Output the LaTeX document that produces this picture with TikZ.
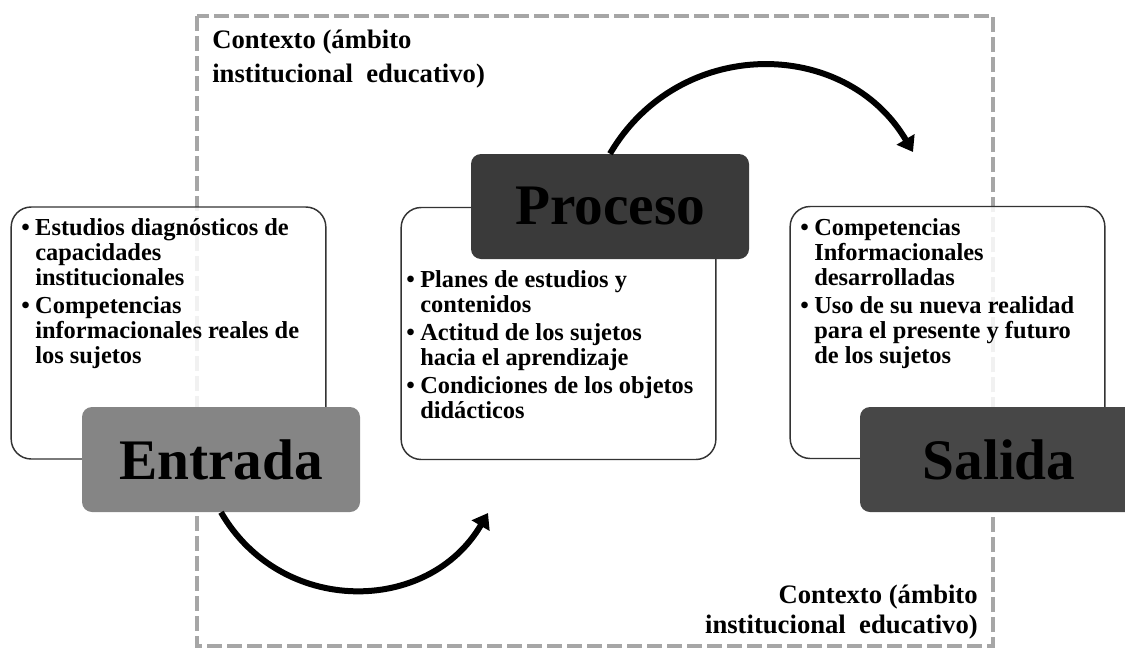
\documentclass[tikz,border=0pt]{standalone}
\usepackage{fontspec}
\setmainfont{Liberation Serif}
\usepackage{tikz}
\usetikzlibrary{arrows.meta,positioning}

\definecolor{ctxgray}{HTML}{A6A6A6}
\definecolor{ingray}{HTML}{858585}
\definecolor{procgray}{HTML}{3A3A3A}
\definecolor{outgray}{HTML}{474747}

\begin{document}
\begin{tikzpicture}[x=0.75pt,y=-0.75pt]
    \tikzstyle{panel}=[draw=black!80, line width=1.1pt, rounded corners=15pt, fill=white, fill opacity=0.85, minimum width=236pt, minimum height=189pt, inner sep=0pt]
    \tikzstyle{stage}=[rounded corners=7.5pt, minimum width=208.5pt, minimum height=78.75pt, inner sep=0pt, font=\fontsize{43}{43}\selectfont\bfseries]
    \tikzstyle{bullets}=[anchor=base west, inner sep=0pt, font=\fontsize{18.3}{18.75}\selectfont\bfseries]
    \tikzstyle{context}=[inner sep=0pt]
    \tikzstyle{flow}=[line width=4.5pt, -{Triangle[length=11pt,width=15pt]}]

    \clip (0,0) rectangle (1125,650);

    % contexto
    \draw[ctxgray, line width=3.5pt, dash pattern=on 11pt off 4pt] (197,16) rectangle (993,646);

    \node[panel] (1) at (168.5,333) {};
    \node[panel] (2) at (558.5,333.5) {};
    \node[panel] (3) at (947.5,332.5) {};

    \node[stage, fill=ingray]   (4) at (221,459.5) {Entrada};
    \node[stage, fill=procgray] (5) at (610,206.5) {Proceso};
    \node[stage, fill=outgray]  (6) at (999,459.5) {Salida};

    \node[bullets] (7) at (21,235) {\begin{tabular}[t]{@{}p{10.5pt}@{}l@{}}
      \textbullet & Estudios diagnósticos de\\
                  & capacidades\\
                  & institucionales\\[2.25pt]
      \textbullet & Competencias\\
                  & informacionales reales de\\
                  & los sujetos
    \end{tabular}};
    \node[bullets] (8) at (406,287) {\begin{tabular}[t]{@{}p{10.5pt}@{}l@{}}
      \textbullet & Planes de estudios y\\
                  & contenidos\\[2.25pt]
      \textbullet & Actitud de los sujetos\\
                  & hacia el aprendizaje\\[2.25pt]
      \textbullet & Condiciones de los objetos\\
                  & didácticos
    \end{tabular}};
    \node[bullets] (9) at (800,235) {\begin{tabular}[t]{@{}p{10.5pt}@{}l@{}}
      \textbullet & Competencias\\
                  & Informacionales\\
                  & desarrolladas\\[2.25pt]
      \textbullet & Uso de su nueva realidad\\
                  & para el presente y futuro\\
                  & de los sujetos
    \end{tabular}};

    \node[context, anchor=base west, font=\fontsize{20}{25.5}\selectfont\bfseries] (10) at (212,48)
      {\begin{tabular}[t]{@{}l@{}}Contexto (ámbito\\institucional\ \ educativo)\end{tabular}};
    \node[context, anchor=base east, font=\fontsize{20}{22.5}\selectfont\bfseries] (11) at (978,603)
      {\begin{tabular}[t]{@{}r@{}}Contexto (ámbito\\institucional\ \ educativo)\end{tabular}};

    % flechas
    \coordinate (e1) at (488,513);
    \coordinate (e2) at (913,152);
    \draw[flow] (4.south) .. controls (281,616) and (428,615) .. (e1);
    \draw[flow] (5.north) .. controls (679,36) and (845,37) .. (e2);
\end{tikzpicture}
\end{document}
